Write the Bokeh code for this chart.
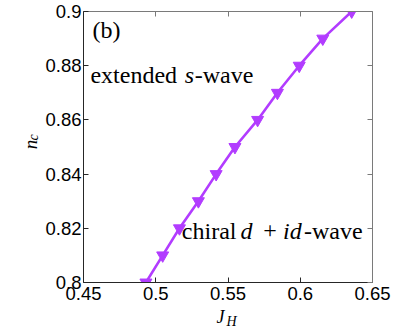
import numpy as np
from bokeh.plotting import figure
from bokeh.models import LinearAxis, Range1d, Label, FixedTicker
from bokeh.layouts import row, column
from bokeh.core.properties import value
from bokeh.embed import file_html
from bokeh.resources import INLINE

# data
nc = [0.80, 0.81, 0.82, 0.83, 0.84, 0.85, 0.86, 0.87, 0.88, 0.89, 0.90]
jh = [0.4932, 0.5048, 0.5164, 0.5295, 0.5418, 0.5548, 0.5705, 0.5842, 0.5993, 0.6156, 0.6356]
x_ticks = [0.45, 0.5, 0.55, 0.6, 0.65]
x_tick_labels = {0.45: "0.45", 0.5: "0.5", 0.55: "0.55", 0.6: "0.6", 0.65: "0.65"}
y_ticks = [0.8, 0.82, 0.84, 0.86, 0.88, 0.9]
y_tick_labels = {0.8: "0.8", 0.82: "0.82", 0.84: "0.84", 0.86: "0.86", 0.88: "0.88", 0.9: "0.9"}

PURPLE = "#b23cff"
SERIF = "Liberation Serif"
SANS = "Liberation Sans"
TICK_FS = "18.5px"

# layout (page px)
LEFT_W = 42
FRAME_L, FRAME_R, FRAME_T, FRAME_B = 81, 372, 11, 282
MAIN_H = 307
TOTAL_W, TOTAL_H = 403, 330
SHIFT = 0.375  # empirical baseline correction, in em

p = figure(width=TOTAL_W - LEFT_W, height=MAIN_H, output_backend="svg", toolbar_location=None,
           x_range=Range1d(0.45, 0.65), y_range=Range1d(0.8, 0.9),
           x_axis_location=None, y_axis_location=None,
           min_border_left=FRAME_L - LEFT_W, min_border_right=TOTAL_W - FRAME_R,
           min_border_top=FRAME_T, min_border_bottom=MAIN_H - FRAME_B)
p.grid.visible = False
p.outline_line_color = None

def make_axis(ticks, labels, show_labels, color):
    ax = LinearAxis(ticker=FixedTicker(ticks=ticks))
    ax.minor_tick_line_color = None
    ax.major_tick_in = 5
    ax.major_tick_out = 0
    ax.axis_line_color = color
    ax.major_tick_line_color = color
    if show_labels:
        ax.major_label_overrides = labels
        ax.major_label_text_font = SANS
        ax.major_label_text_font_size = TICK_FS
        ax.major_label_text_color = "black"
    else:
        ax.major_label_text_color = None
        ax.major_label_text_font_size = "1px"
        ax.major_label_standoff = 0
    return ax

bottom = make_axis(x_ticks, x_tick_labels, True, "#262626")
bottom.major_label_standoff = 4
left = make_axis(y_ticks, y_tick_labels, True, "#262626")
left.major_label_standoff = 2
top = make_axis(x_ticks, {}, False, "#7a7a7a")
right = make_axis(y_ticks, {}, False, "#7a7a7a")
p.add_layout(bottom, "below")
p.add_layout(left, "left")
p.add_layout(top, "above")
p.add_layout(right, "right")

p.line(jh, nc, line_color=PURPLE, line_width=2.6)
p.scatter(jh, nc, marker="inverted_triangle", size=12, fill_color=PURPLE, line_color=PURPLE)

def px2x(px):
    return 0.45 + (px - FRAME_L) * 0.2 / (FRAME_R - FRAME_L)

def py2y(py):
    return 0.8 + (FRAME_B - py) * 0.1 / (FRAME_B - FRAME_T)

def lab(text, px, py, size, style="normal"):
    py = py - SHIFT * size
    p.add_layout(Label(x=px2x(px), y=py2y(py), text=text, text_font=SERIF,
                       text_font_size=f"{size}px", text_font_style=style,
                       text_baseline="alphabetic", text_align="left", text_color="black"))

FS = 24
lab("(b)", 90, 38, FS)
lab("extended", 88, 83, FS)
lab("s", 183, 83, FS, "italic")
lab("-wave", 193, 83, FS)
lab("chiral", 180, 239, FS)
lab("d", 239, 239, FS, "italic")
lab("+", 262, 239, FS)
lab("id", 282, 239, FS, "italic")
lab("-wave", 303, 239, FS)

# left strip with the rotated y label n_c
pl = figure(width=LEFT_W, height=MAIN_H, output_backend="svg", toolbar_location=None,
            x_range=Range1d(0, LEFT_W), y_range=Range1d(0, MAIN_H),
            x_axis_location=None, y_axis_location=None,
            min_border=0)
pl.grid.visible = False
pl.outline_line_color = None
N_FS, C_FS = 19, 14
pl.text(x=[37 - SHIFT * N_FS], y=[MAIN_H - 156], text=["n"], angle=np.pi / 2,
        text_font=value(SERIF), text_font_style="italic", text_font_size=f"{N_FS}px",
        text_baseline="alphabetic", text_align="left", text_color="black")
pl.text(x=[38 - SHIFT * C_FS], y=[MAIN_H - 146], text=["c"], angle=np.pi / 2,
        text_font=value(SERIF), text_font_style="italic", text_font_size=f"{C_FS}px",
        text_baseline="alphabetic", text_align="left", text_color="black")

# bottom strip with the x label J_H
BOT_H = TOTAL_H - MAIN_H
J_FS, H_FS = 18, 14
pb = figure(width=TOTAL_W, height=BOT_H, output_backend="svg", toolbar_location=None,
            x_range=Range1d(0, TOTAL_W), y_range=Range1d(0, BOT_H),
            x_axis_location=None, y_axis_location=None,
            min_border=0)
pb.grid.visible = False
pb.outline_line_color = None
pb.text(x=[216], y=[TOTAL_H - 323 + SHIFT * J_FS], text=["J"],
        text_font=value(SERIF), text_font_style="italic", text_font_size=f"{J_FS}px",
        text_baseline="alphabetic", text_align="left", text_color="black")
pb.text(x=[226], y=[TOTAL_H - 326 + SHIFT * H_FS], text=["H"],
        text_font=value(SERIF), text_font_style="italic", text_font_size=f"{H_FS}px",
        text_baseline="alphabetic", text_align="left", text_color="black")

layout = column(row(pl, p), pb)
open("out.html", "w").write(file_html(layout, INLINE))
